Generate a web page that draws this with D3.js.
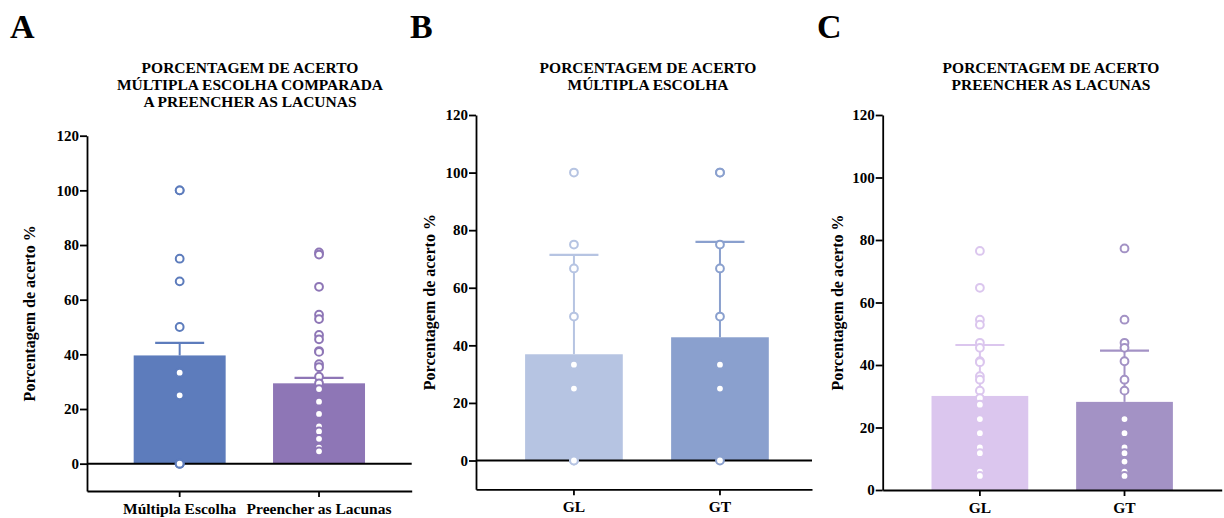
<!DOCTYPE html>
<html>
<head>
<meta charset="utf-8">
<script src="https://cdn.jsdelivr.net/npm/d3@7"></script>
<style>
  html, body { margin: 0; padding: 0; background: #ffffff; }
  svg { display: block; font-family: "Liberation Serif", "Times New Roman", serif; font-weight: bold; }
</style>
</head>
<body>
<svg id="chart" width="1224" height="518"></svg>
<script>
// ---------- DATA ----------
const yTicks = [0, 20, 40, 60, 80, 100, 120];
const yLabel = "Porcentagem de acerto %";

// Panel A
const panelATitle = ["PORCENTAGEM DE ACERTO", "MÚLTIPLA ESCOLHA COMPARADA", "A PREENCHER AS LACUNAS"];
const panelACategories = ["Múltipla Escolha", "Preencher as Lacunas"];
const panelAMeans = [39.6, 29.4];
const panelAErrors = [4.6, 2.0];
const panelAColors = ["#5d7cbc", "#8e76b6"];
const panelAPointsME = [100, 100, 75, 66.7, 50, 33.3, 33.3, 25, 25, 0, 0, 0];
const panelAPointsPL = [77.3, 76.5, 64.7, 54.5, 52.9, 47.1, 45.5, 41.2, 40.9, 36.4, 35.3, 31.8, 29.4, 27.3, 22.7, 18.2, 13.6, 11.8, 9.1, 5.9, 4.5];

// Panel B
const panelBTitle = ["PORCENTAGEM DE ACERTO", "MÚLTIPLA ESCOLHA"];
const panelBCategories = ["GL", "GT"];
const panelBMeans = [36.9, 42.8];
const panelBErrors = [34.5, 33.1];
const panelBColors = ["#b6c4e2", "#8aa0ce"];
const panelBPointsGL = [100, 75, 66.7, 50, 33.3, 25, 0, 0];
const panelBPointsGT = [100, 100, 75, 66.7, 50, 33.3, 25, 0];

// Panel C
const panelCTitle = ["PORCENTAGEM DE ACERTO", "PREENCHER AS LACUNAS"];
const panelCCategories = ["GL", "GT"];
const panelCMeans = [30.1, 28.2];
const panelCErrors = [16.3, 16.4];
const panelCColors = ["#dbc6ee", "#a392c5"];
const panelCPointsGL = [76.5, 64.7, 54.5, 52.9, 47.1, 45.5, 41.2, 40.9, 36.4, 35.3, 31.8, 29.4, 27.3, 22.7, 18.2, 13.6, 11.8, 5.9, 4.5];
const panelCPointsGT = [77.3, 54.5, 47.1, 45.5, 41.2, 35.3, 31.8, 22.7, 18.2, 13.6, 11.8, 9.1, 5.9, 4.5];

// ---------- DRAW ----------
const svg = d3.select("#chart");

function drawPanel(cfg) {
  const g = svg.append("g");
  const x = d3.scaleBand()
    .domain(cfg.categories)
    .range([cfg.left, cfg.right])
    .paddingInner(cfg.padInner)
    .paddingOuter(cfg.padOuter)
    .align(cfg.align);
  const y = d3.scaleLinear().domain(cfg.yDomain).range([cfg.bottom, cfg.top]);

  const rows = cfg.categories.map((c, i) => ({
    cat: c, mean: cfg.means[i], err: cfg.errors[i], color: cfg.colors[i], pts: cfg.points[i]
  }));

  // panel letter
  g.append("text").attr("x", cfg.letterX).attr("y", 38)
    .attr("font-size", 34).attr("fill", "#000").text(cfg.letter);

  // title
  g.append("text").attr("text-anchor", "middle").attr("font-size", 15.5).attr("fill", "#000")
    .selectAll("tspan").data(cfg.title).join("tspan")
    .attr("x", cfg.titleX).attr("y", (d, i) => 73 + i * 17).text(d => d);

  // bars
  g.selectAll(".bar").data(rows).join("rect")
    .attr("x", d => x(d.cat)).attr("width", x.bandwidth())
    .attr("y", d => y(d.mean)).attr("height", d => y(0) - y(d.mean))
    .attr("fill", d => d.color);

  // error bars
  const cw = 24.5;
  rows.forEach(d => {
    const cx = x(d.cat) + x.bandwidth() / 2;
    g.append("line").attr("x1", cx).attr("x2", cx)
      .attr("y1", y(d.mean)).attr("y2", y(d.mean + d.err))
      .attr("stroke", d.color).attr("stroke-width", 2);
    g.append("line").attr("x1", cx - cw).attr("x2", cx + cw)
      .attr("y1", y(d.mean + d.err)).attr("y2", y(d.mean + d.err))
      .attr("stroke", d.color).attr("stroke-width", 2.2);
  });

  // axes
  const yAxis = d3.axisLeft(y).tickValues(yTicks).tickSize(7).tickSizeOuter(0).tickPadding(1);
  const ya = g.append("g").attr("transform", `translate(${cfg.left},0)`).call(yAxis);
  ya.select(".domain").attr("stroke-width", 1.8);
  ya.selectAll(".tick line").attr("stroke-width", 1.8);
  ya.selectAll("text").attr("font-size", 15).attr("font-family", "Liberation Serif").attr("font-weight", "bold").attr("fill", "#000");

  const xAxis = d3.axisBottom(x).tickSize(6).tickSizeOuter(0).tickPadding(6);
  const xa = g.append("g").attr("transform", `translate(0,${cfg.bottom})`).call(xAxis);
  xa.select(".domain").attr("stroke-width", 1.8);
  xa.selectAll(".tick line").attr("stroke-width", 1.8);
  xa.selectAll("text").attr("font-size", 15.5).attr("font-family", "Liberation Serif").attr("font-weight", "bold").attr("fill", "#000");

  // zero line
  if (cfg.yDomain[0] < 0) {
    g.append("line").attr("x1", cfg.left).attr("x2", cfg.right)
      .attr("y1", y(0)).attr("y2", y(0)).attr("stroke", "#000").attr("stroke-width", 2);
  }

  // points
  rows.forEach(d => {
    const cx = x(d.cat) + x.bandwidth() / 2;
    g.selectAll(null).data(d.pts).join("circle")
      .attr("cx", cx).attr("cy", v => y(v)).attr("r", 3.9)
      .attr("fill", "#fff").attr("stroke", d.color).attr("stroke-width", 2);
  });

  // y label
  g.append("text")
    .attr("transform", `translate(${cfg.yLabelX},${(cfg.top + cfg.bottom) / 2}) rotate(-90)`)
    .attr("text-anchor", "middle").attr("font-size", 16).attr("fill", "#000").text(yLabel);
}

drawPanel({
  letter: "A", letterX: 10, title: panelATitle, titleX: 250,
  categories: panelACategories, means: panelAMeans, errors: panelAErrors, colors: panelAColors,
  points: [panelAPointsME, panelAPointsPL],
  left: 87, right: 411.7, top: 135.7, bottom: 491, yDomain: [-10, 120],
  padInner: 0.34, padOuter: 0.335, align: 0.5, yLabelX: 35
});

drawPanel({
  letter: "B", letterX: 410, title: panelBTitle, titleX: 648,
  categories: panelBCategories, means: panelBMeans, errors: panelBErrors, colors: panelBColors,
  points: [panelBPointsGL, panelBPointsGT],
  left: 476, right: 812, top: 115, bottom: 489.3, yDomain: [-10, 120],
  padInner: 0.331, padOuter: 0.316, align: 0.532, yLabelX: 435
});

drawPanel({
  letter: "C", letterX: 817, title: panelCTitle, titleX: 1051,
  categories: panelCCategories, means: panelCMeans, errors: panelCErrors, colors: panelCColors,
  points: [panelCPointsGL, panelCPointsGT],
  left: 882.7, right: 1221.7, top: 115, bottom: 490, yDomain: [0, 120],
  padInner: 0.331, padOuter: 0.3375, align: 0.5, yLabelX: 843
});
</script>
</body>
</html>
